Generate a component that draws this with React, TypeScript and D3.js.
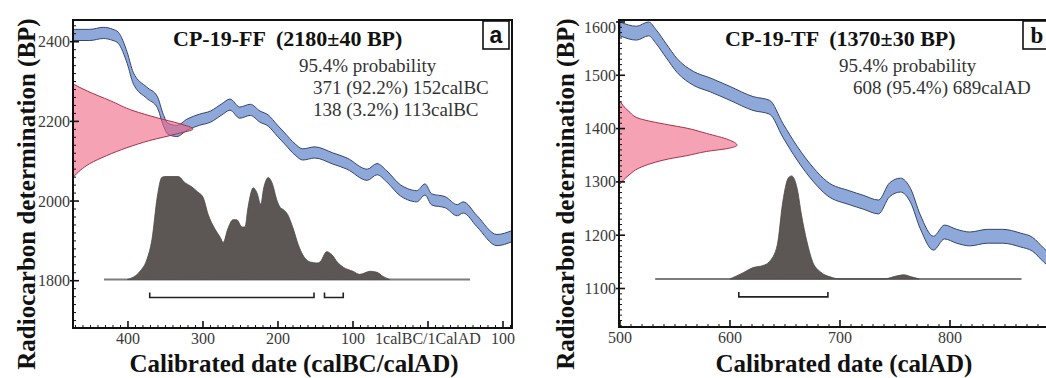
import React from 'react';
import * as d3 from 'd3';

const FONT = 'Liberation Serif, Tinos, Times New Roman, Times, DejaVu Serif, serif';

// ---------- Panel a : CP-19-FF ----------
const aCurveYears = [-473,-451,-433,-420,-413,-401,-393,-375,-361,-353,-347,-335,-321,-305,-290,-275,-264,-251,-237,-224,-213,-201,-191,-177,-167,-151,-127,-108,-81,-68,-55,-37,-27,-15,-4,5,23,39,47,65,92,112];
const aCurveBP = [2417,2417,2422,2417,2410,2359,2309,2272,2249,2204,2182,2176,2192,2204,2212,2230,2242,2222,2229,2212,2202,2177,2157,2129,2117,2122,2107,2094,2066,2080,2062,2027,2017,2012,2029,2004,1997,1977,1984,1950,1902,1912];
const aCurveErr = 14;
const aMeasBP = [2294,2276,2252,2227,2209,2194,2181,2169,2152,2134,2114,2094,2077,2059];
const aMeasDensity = [0,0.12,0.31,0.5,0.7,0.89,1,0.87,0.64,0.45,0.28,0.14,0.06,0];
const aPostYears = [-401,-384,-375,-368,-361,-355,-351,-333,-324,-315,-307,-300,-293,-284,-277,-273,-267,-260,-255,-248,-244,-240,-233,-228,-223,-219,-213,-208,-201,-197,-193,-187,-180,-173,-167,-157,-148,-144,-135,-128,-121,-113,-100,-91,-77,-68,-60,-51];
const aPostDensity = [0,0.08,0.19,0.39,0.8,0.99,1,1,0.94,0.9,0.85,0.8,0.63,0.49,0.41,0.36,0.49,0.58,0.58,0.51,0.51,0.7,0.89,0.84,0.73,0.89,0.99,0.94,0.76,0.7,0.68,0.63,0.5,0.34,0.24,0.17,0.16,0.17,0.27,0.24,0.17,0.12,0.08,0.05,0.08,0.07,0.03,0];
const aBaseSpan = [-432, 56];
const aRanges = [[-371, -152], [-138, -113]];
const aXTicks = [-400, -300, -200, -100, 0, 100];
const aXTickLabels = ['400', '300', '200', '100', '1calBC/1CalAD', '100'];
const aYTicks = [1800, 2000, 2200, 2400];
const aTitle = 'CP-19-FF  (2180\u00b140 BP)';
const aProb = ['95.4% probability', '371 (92.2%) 152calBC', '138 (3.2%) 113calBC'];

// ---------- Panel b : CP-19-TF ----------
const bCurveYears = [500,515,526,533,542,552,567,582,600,621,636,648,661,676,688,709,721,735,745,755,764,773,785,795,806,818,834,848,864,875,885,892];
const bCurveBP = [1587,1579,1587,1572,1546,1518,1494,1482,1466,1447,1440,1397,1354,1313,1288,1270,1262,1253,1285,1294,1275,1225,1185,1206,1198,1193,1198,1198,1191,1183,1163,1150];
const bCurveErr = 13;
const bMeasBP = [1454,1432,1419,1413,1407,1401,1391,1379,1369,1363,1357,1349,1343,1335,1326,1313,1294];
const bMeasDensity = [0,0.085,0.17,0.28,0.42,0.57,0.74,0.93,1,0.93,0.74,0.57,0.42,0.28,0.17,0.085,0];
const bPostYears = [600,612,621,630,636,643,648,653,656,661,665,670,675,682,691,700,740,752,758,765,772];
const bPostDensity = [0,0.06,0.11,0.13,0.17,0.33,0.75,0.98,1,0.88,0.62,0.36,0.17,0.07,0.02,0,0,0.03,0.04,0.02,0];
const bBaseSpan = [532, 865];
const bRanges = [[608, 689]];
const bXTicks = [500, 600, 700, 800];
const bXTickLabels = ['500', '600', '700', '800'];
const bYTicks = [1100, 1200, 1300, 1400, 1500, 1600];
const bTitle = 'CP-19-TF  (1370\u00b130 BP)';
const bProb = ['95.4% probability', '608 (95.4%) 689calAD'];

const xAxisTitleA = 'Calibrated date (calBC/calAD)';
const xAxisTitleB = 'Calibrated date (calAD)';
const yAxisTitle = 'Radiocarbon determination (BP)';

type Cfg = {
  id: string;
  box: { l: number; r: number; t: number; b: number };
  xDom: [number, number];
  yDom: [number, number];
  curveYears: number[]; curveBP: number[]; curveErr: number;
  measBP: number[]; measDensity: number[]; measWidth: number;
  postYears: number[]; postDensity: number[]; postHeight: number;
  baseBP: number; baseSpan: number[]; ranges: number[][];
  xTicks: number[]; xTickLabels: string[]; xMinor: number;
  yTicks: number[]; yMinor: number;
  title: string; titleX: number;
  prob: string[]; probX: number[];
  letter: string; letterFont: string; letterBox: [number, number];
  xTitle: string; xTitleX: number; yTitleX: number;
};

function Panel({ c }: { c: Cfg }) {
  const { l, r, t, b } = c.box;
  const x = d3.scaleLinear().domain(c.xDom).range([l, r]);
  const y = d3.scaleLinear().domain(c.yDom).range([b, t]);
  const dens = d3.scaleLinear().domain([0, 1]).range([l, l + c.measWidth]);
  const hgt = d3.scaleLinear().domain([0, 1]).range([0, c.postHeight]);
  const yBase = y(c.baseBP);

  const curveData = c.curveYears.map((yr, i) => ({ yr, bp: c.curveBP[i] }));
  const band = d3.area<{ yr: number; bp: number }>()
    .x(d => x(d.yr)).y0(d => y(d.bp - c.curveErr)).y1(d => y(d.bp + c.curveErr))
    .curve(d3.curveMonotoneX)(curveData) || '';

  const measData = c.measBP.map((bp, i) => ({ bp, d: c.measDensity[i] }));
  const meas = d3.area<{ bp: number; d: number }>()
    .y(d => y(d.bp)).x0(() => l).x1(d => dens(d.d))
    .curve(d3.curveMonotoneY)(measData) || '';

  const postData = c.postYears.map((yr, i) => ({ yr, d: c.postDensity[i] }));
  const post = d3.area<{ yr: number; d: number }>()
    .x(d => x(d.yr)).y0(yBase).y1(d => yBase - hgt(d.d))
    .curve(d3.curveMonotoneX)(postData) || '';

  const xMinorTicks = d3.range(Math.ceil(c.xDom[0] / c.xMinor) * c.xMinor, c.xDom[1] + 0.001, c.xMinor)
    .filter(v => !c.xTicks.includes(v));
  const yMinorTicks = d3.range(Math.ceil(c.yDom[0] / c.yMinor) * c.yMinor, c.yDom[1] + 0.001, c.yMinor)
    .filter(v => !c.yTicks.includes(v));

  const clipId = 'clip-' + c.id;
  const yBr = yBase + 18;
  const txt = { fontFamily: FONT };

  return (
    <g>
      <defs>
        <clipPath id={clipId}>
          <rect x={l} y={t} width={r - l} height={b - t} />
        </clipPath>
      </defs>
      <g clipPath={`url(#${clipId})`}>
        <line x1={x(c.baseSpan[0])} x2={x(c.baseSpan[1])} y1={yBase} y2={yBase} stroke="#7d7d7d" strokeWidth={2} />
        <path d={post} fill="#5c5755" stroke="#4e4a48" strokeWidth={0.8} />
        <path d={band} fill="#8fa8da" stroke="#34466e" strokeWidth={1} />
        <path d={meas} fill="rgba(238,100,130,0.6)" stroke="#a8304c" strokeWidth={1} />
      </g>
      {c.ranges.map((rg, i) => (
        <path key={i}
          d={`M${x(rg[0])},${yBr - 5}V${yBr}H${x(rg[1])}V${yBr - 5}`}
          fill="none" stroke="#222" strokeWidth={1.6} />
      ))}
      <rect x={l} y={t} width={r - l} height={b - t} fill="none" stroke="#111" strokeWidth={2} />
      {yMinorTicks.map(v => (
        <line key={'ym' + v} x1={l} x2={l + 3} y1={y(v)} y2={y(v)} stroke="#111" strokeWidth={1} />
      ))}
      {c.yTicks.map(v => (
        <g key={'y' + v}>
          <line x1={l - 3} x2={l + 6} y1={y(v)} y2={y(v)} stroke="#111" strokeWidth={1.6} />
          <text x={l - 3} y={Math.max(y(v), t + 7)} dy="0.35em" textAnchor="end" fontSize={16} style={txt} fill="#3a3a3a">{v}</text>
        </g>
      ))}
      {xMinorTicks.map(v => (
        <line key={'xm' + v} x1={x(v)} x2={x(v)} y1={b} y2={b - 3} stroke="#111" strokeWidth={1} />
      ))}
      {c.xTicks.map((v, i) => (
        <g key={'x' + v}>
          <line x1={x(v)} x2={x(v)} y1={b} y2={b - 7} stroke="#111" strokeWidth={1.6} />
          <text x={x(v)} y={b + 16} textAnchor="middle" fontSize={16} style={txt} fill="#3a3a3a">{c.xTickLabels[i]}</text>
        </g>
      ))}
      <text x={c.titleX} y={46} fontSize={22} fontWeight="bold" style={{ ...txt, whiteSpace: 'pre' }} fill="#111">{c.title}</text>
      {c.prob.map((s, i) => (
        <text key={i} x={c.probX[i]} y={72 + i * 22} fontSize={19} style={txt} fill="#333">{s}</text>
      ))}
      <rect x={c.letterBox[0]} y={t + 1} width={c.letterBox[1]} height={28} fill="#fff" stroke="#111" strokeWidth={1.6} />
      <text x={c.letterBox[0] + c.letterBox[1] / 2} y={t + 23} textAnchor="middle" fontSize={23} fontWeight="bold" style={{ fontFamily: c.letterFont }} fill="#111">{c.letter}</text>
      <text x={c.xTitleX} y={372} textAnchor="middle" fontSize={25} fontWeight="bold" style={txt} fill="#111">{c.xTitle}</text>
      <text transform={`translate(${c.yTitleX},194) rotate(-90)`} textAnchor="middle" fontSize={25} fontWeight="bold" style={txt} fill="#111">{yAxisTitle}</text>
    </g>
  );
}

const cfgA: Cfg = {
  id: 'a',
  box: { l: 73, r: 512, t: 20, b: 328 },
  xDom: [-473.3, 112],
  yDom: [1681.3, 2454.5],
  curveYears: aCurveYears, curveBP: aCurveBP, curveErr: aCurveErr,
  measBP: aMeasBP, measDensity: aMeasDensity, measWidth: 120,
  postYears: aPostYears, postDensity: aPostDensity, postHeight: 103,
  baseBP: 1803, baseSpan: aBaseSpan, ranges: aRanges,
  xTicks: aXTicks, xTickLabels: aXTickLabels, xMinor: 10,
  yTicks: aYTicks, yMinor: 20,
  title: aTitle, titleX: 173,
  prob: aProb, probX: [299, 313, 313],
  letter: 'a', letterFont: 'Liberation Sans, Arimo, Arial, sans-serif', letterBox: [483, 26],
  xTitle: xAxisTitleA, xTitleX: 294, yTitleX: 35,
};

const cfgB: Cfg = {
  id: 'b',
  box: { l: 619, r: 1050, t: 20, b: 327 },
  xDom: [499.1, 890.9],
  yDom: [1027.8, 1603.7],
  curveYears: bCurveYears, curveBP: bCurveBP, curveErr: bCurveErr,
  measBP: bMeasBP, measDensity: bMeasDensity, measWidth: 118,
  postYears: bPostYears, postDensity: bPostDensity, postHeight: 103,
  baseBP: 1118, baseSpan: bBaseSpan, ranges: bRanges,
  xTicks: bXTicks, xTickLabels: bXTickLabels, xMinor: 10,
  yTicks: bYTicks, yMinor: 10,
  title: bTitle, titleX: 725,
  prob: bProb, probX: [839, 853],
  letter: 'b', letterFont: FONT, letterBox: [1023, 28],
  xTitle: xAxisTitleB, xTitleX: 844, yTitleX: 574,
};

export default function App() {
  return (
    <svg width={1046} height={378} style={{ position: 'absolute', left: 0, top: 0, background: '#fff' }}>
      <rect x={0} y={0} width={1046} height={378} fill="#fff" />
      <Panel c={cfgA} />
      <Panel c={cfgB} />
    </svg>
  );
}
